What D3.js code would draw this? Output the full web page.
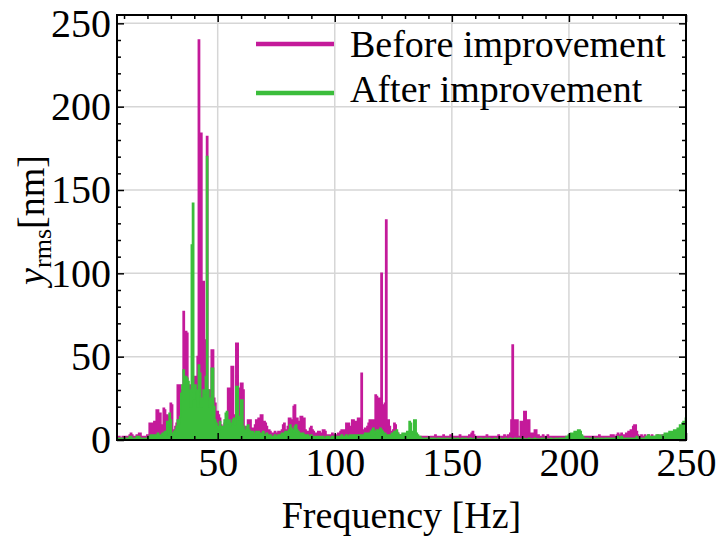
<!DOCTYPE html>
<html>
<head>
<meta charset="utf-8">
<script src="https://cdn.jsdelivr.net/npm/d3@7"></script>
<style>
  body { margin: 0; background: #fff; }
  svg text { font-family: "Liberation Serif", "Times New Roman", serif; fill: #000; }
</style>
</head>
<body>
<svg id="chart" width="716" height="538"></svg>
<script>
// frequency grid: 7 Hz .. 250 Hz, 0.5 Hz step (one row = 5 Hz)
const freqStart = 7
const freqStep = 0.5

// y_rms [nm], before improvement
const beforeImprovement = [
  2,1,2,1,1,2,1,2,1,2,        // 7
  2,3,4,3,2,1,2,3,2,4,        // 12
  4,2,2,1,2,2,3,2,10,10,      // 17
  10,10,11,10,18,18,16,16,9,9,
  19,18,6,15,14,8,22,21,6,5,  // 27
  8,10,33,32,33,20,30,77,30,65,
  64,25,33,28,20,35,36,38,30,50, // 37
  240,150,184,60,95,20,60,182,30,20,
  30,54,54,25,22,12,17,15,13,9, // 47
  8,6,10,12,14,31,31,20,44,44,
  15,10,58,58,31,20,34,34,30,8, // 57
  7,6,12,11,12,6,7,5,9,12,
  12,13,13,15,15,9,11,10,8,6, // 67
  6,5,4,3,4,5,3,4,5,4,
  5,6,9,10,6,5,8,13,13,10,    // 77
  12,20,21,13,13,11,8,14,14,7,
  13,6,5,4,5,7,8,6,5,3,       // 87
  4,3,5,5,3,4,6,6,5,3,
  2,3,2,3,4,3,3,2,3,4,        // 97
  4,5,6,6,6,6,10,10,10,7,
  8,12,12,11,11,11,13,13,13,40, // 107
  6,5,7,6,8,10,12,12,8,12,
  12,27,26,25,25,22,100,21,21,22, // 117
  132,12,12,8,5,4,6,10,9,5,
  4,3,3,2,2,3,2,2,2,3,        // 127
  2,2,3,2,2,2,1,2,1,2,
  2,1,2,2,1,2,1,1,2,1,        // 137
  2,2,3,2,1,2,2,1,2,3,
  2,2,1,2,2,3,2,1,2,2,        // 147
  1,2,2,3,2,2,1,2,2,2,
  2,3,3,4,5,3,2,2,2,2,        // 157
  2,2,1,2,2,2,3,2,2,2,
  2,1,2,2,2,2,3,2,2,2,        // 167
  2,3,2,2,3,2,4,12,57,12,
  12,12,12,1,2,11,11,10,17,17, // 177
  12,12,12,4,3,4,3,6,6,3,
  3,2,2,2,3,2,2,2,3,2,        // 187
  2,2,2,1,2,2,2,1,2,2,
  2,1,2,2,2,1,2,2,1,2,        // 197
  1,2,1,2,1,1,2,1,1,2,
  2,2,1,2,2,2,1,2,2,2,        // 207
  2,2,3,2,2,2,2,1,2,2,
  2,2,3,2,3,2,2,3,4,3,        // 217
  3,4,3,3,3,4,4,5,5,6,
  5,8,9,9,5,3,2,2,3,2,        // 227
  2,3,2,2,3,2,2,3,2,2,
  2,2,3,2,2,2,3,2,2,3,        // 237
  3,2,2,3,2,3,2,2,3,2,
  2,3,2,2,3,2,2               // 247 .. 250
]

// y_rms [nm], after improvement
const afterImprovement = [
  1,0.5,1,1,0.5,1,1,0.5,1,1,  // 7
  1,2,2,1,1,0.5,1,2,1,2,      // 12
  1,1,0.5,1,1,0.5,1,2,2,3,    // 17
  2,3,3,2,3,4,3,2,3,4,
  4,5,3,11,7,16,12,4,4,5,     // 27
  6,8,12,10,14,28,33,42,38,38,
  37,35,30,20,117,142,25,33,30,20, // 37
  45,40,20,25,30,28,38,170,30,20,
  25,43,43,20,12,10,8,6,11,8, // 47
  7,8,12,16,17,10,12,8,10,12,
  13,9,32,32,14,12,24,24,8,6, // 57
  5,8,9,6,5,4,5,4,4,5,
  4,5,4,3,4,5,3,3,4,3,        // 67
  3,3,2,2,2,3,2,2,3,2,
  3,4,3,4,5,4,5,6,9,7,        // 77
  6,5,8,9,6,5,4,4,3,4,
  3,3,2,3,2,2,3,2,2,2,        // 87
  2,2,1,2,2,1,2,1,1,2,
  1,2,1,1,2,2,1,2,1,2,        // 97
  2,2,3,2,2,2,3,2,2,3,
  3,3,2,3,3,2,3,3,2,3,        // 107
  3,3,4,3,4,3,4,5,6,7,
  4,5,6,5,6,7,6,5,3,4,        // 117
  3,3,2,3,3,4,4,5,5,6,
  4,3,3,3,4,3,4,4,5,4,        // 127
  11,10,5,4,12,12,4,3,2,2,
  1,1,0.5,1,1,0.5,1,0.5,1,1,  // 137
  0.5,1,0.5,0.5,1,0.5,1,0.5,0.5,1,
  0.5,0.5,1,0.5,0.5,1,0.5,0.5,1,0.5, // 147
  0.5,1,0.5,0.5,0.5,1,0.5,0.5,1,0.5,
  0.5,0.5,1,0.5,0.5,0.5,1,0.5,0.5,0.5, // 157
  0.5,1,0.5,0.5,0.5,1,0.5,0.5,1,0.5,
  0.5,0.5,0.5,1,0.5,0.5,0.5,1,0.5,0.5, // 167
  0.5,0.5,1,0.5,0.5,0.5,1,0.5,0.5,0.5,
  1,0.5,0.5,1,0.5,0.5,0.5,1,0.5,0.5, // 177
  0.5,0.5,1,0.5,0.5,0.5,0.5,1,0.5,0.5,
  0.5,0.5,0.5,1,0.5,0.5,1,0.5,0.5,0.5, // 187
  0.5,1,0.5,0.5,0.5,1,0.5,0.5,1,0.5,
  1,0.5,1,1,2,2,3,3,4,4,      // 197
  4,5,4,5,6,6,5,3,2,1,
  1,0.5,1,0.5,0.5,1,0.5,0.5,1,0.5, // 207
  0.5,1,0.5,0.5,1,0.5,0.5,1,0.5,1,
  0.5,1,1,0.5,1,0.5,1,1,2,1,  // 217
  1,2,1,1,0.5,1,1,0.5,1,1,
  1,0.5,1,1,2,1,1,0.5,1,1,    // 227
  1,1,2,2,3,2,1,2,1,2,
  2,3,3,2,3,2,2,3,4,3,        // 237
  4,4,5,4,5,5,6,5,6,7,
  7,9,8,10,11,10,13           // 247 .. 250
]

const xMajor = [50, 100, 150, 200, 250]
const yMajor = [0, 50, 100, 150, 200, 250]
const seriesNames = ["Before improvement", "After improvement"]
const seriesColors = ["#c41a9a", "#3bbd3b"]

// layout
const margin = {left: 117, top: 15, right: 30, bottom: 98}
const w = 716 - margin.left - margin.right
const h = 538 - margin.top - margin.bottom

const svg = d3.select("#chart")
const g = svg.append("g").attr("transform", `translate(${margin.left},${margin.top})`)

const x = d3.scaleLinear().domain([7, 250]).range([0, w])
const y = d3.scaleLinear().domain([0, 255]).range([h, 0])

const xMinor = d3.range(10, 250, 10).filter(d => d % 50 !== 0)
const yMinor = d3.range(10, 255, 10).filter(d => d % 50 !== 0)

// grid
g.selectAll(".gx").data(xMajor.filter(d => d < 250)).join("line")
  .attr("x1", d => x(d)).attr("x2", d => x(d)).attr("y1", 0).attr("y2", h)
  .attr("stroke", "#d6d6d6").attr("stroke-width", 1.5)
g.selectAll(".gy").data(yMajor.filter(d => d > 0)).join("line")
  .attr("y1", d => y(d)).attr("y2", d => y(d)).attr("x1", 0).attr("x2", w)
  .attr("stroke", "#d6d6d6").attr("stroke-width", 1.5)

// series: dense spectrum, drawn as filled steps
const toPoints = vals => vals.map((v, i) => [freqStart + i * freqStep, v])
const area = d3.area()
  .x(d => x(d[0]))
  .y0(y(0))
  .y1(d => y(d[1]))
  .curve(d3.curveStep)

;[beforeImprovement, afterImprovement].forEach((vals, k) => {
  g.append("path")
    .attr("d", area(toPoints(vals)))
    .attr("fill", seriesColors[k])
    .attr("stroke", seriesColors[k])
    .attr("stroke-width", 1.6)
    .attr("stroke-linejoin", "miter")
})

// axes (ticks inward, all four sides)
const fontPx = 40
function styleAxis(sel) {
  sel.select(".domain").remove()
  sel.selectAll("line").attr("stroke", "#000").attr("stroke-width", 1.5)
  sel.selectAll("text").attr("font-size", fontPx)
}

g.append("g").attr("transform", `translate(0,${h})`)
  .call(d3.axisBottom(x).tickValues(xMajor).tickSizeInner(-7).tickSizeOuter(0).tickPadding(8))
  .call(styleAxis)
g.append("g").attr("transform", `translate(0,${h})`)
  .call(d3.axisBottom(x).tickValues(xMinor).tickSizeInner(-4).tickSizeOuter(0).tickFormat(""))
  .call(styleAxis)
g.append("g")
  .call(d3.axisTop(x).tickValues(xMajor).tickSizeInner(-7).tickSizeOuter(0).tickFormat(""))
  .call(styleAxis)
g.append("g")
  .call(d3.axisTop(x).tickValues(xMinor).tickSizeInner(-4).tickSizeOuter(0).tickFormat(""))
  .call(styleAxis)

g.append("g")
  .call(d3.axisLeft(y).tickValues(yMajor).tickSizeInner(-7).tickSizeOuter(0).tickPadding(6))
  .call(styleAxis)
g.append("g")
  .call(d3.axisLeft(y).tickValues(yMinor).tickSizeInner(-4).tickSizeOuter(0).tickFormat(""))
  .call(styleAxis)
g.append("g").attr("transform", `translate(${w},0)`)
  .call(d3.axisRight(y).tickValues(yMajor).tickSizeInner(-7).tickSizeOuter(0).tickFormat(""))
  .call(styleAxis)
g.append("g").attr("transform", `translate(${w},0)`)
  .call(d3.axisRight(y).tickValues(yMinor).tickSizeInner(-4).tickSizeOuter(0).tickFormat(""))
  .call(styleAxis)

// frame
g.append("rect").attr("width", w).attr("height", h)
  .attr("fill", "none").attr("stroke", "#000").attr("stroke-width", 2)

// axis labels
svg.append("text")
  .attr("x", margin.left + w / 2).attr("y", 528)
  .attr("text-anchor", "middle").attr("font-size", 38)
  .text("Frequency [Hz]")

const yl = svg.append("text")
  .attr("transform", "translate(44,220) rotate(-90)")
  .attr("text-anchor", "middle").attr("font-size", 38)
yl.append("tspan").attr("font-style", "italic").text("y")
yl.append("tspan").attr("font-size", 26).attr("dy", 7).text("rms")
yl.append("tspan").attr("dy", -7).text("[nm]")

// legend
const legend = svg.append("g")
seriesNames.forEach((name, i) => {
  const ly = 44 + i * 49
  legend.append("line")
    .attr("x1", 256).attr("x2", 334).attr("y1", ly).attr("y2", ly)
    .attr("stroke", seriesColors[i]).attr("stroke-width", 4.5)
  legend.append("text")
    .attr("x", 350).attr("y", ly + 13 - i * 4)
    .attr("font-size", 38)
    .text(name)
})
</script>
</body>
</html>
